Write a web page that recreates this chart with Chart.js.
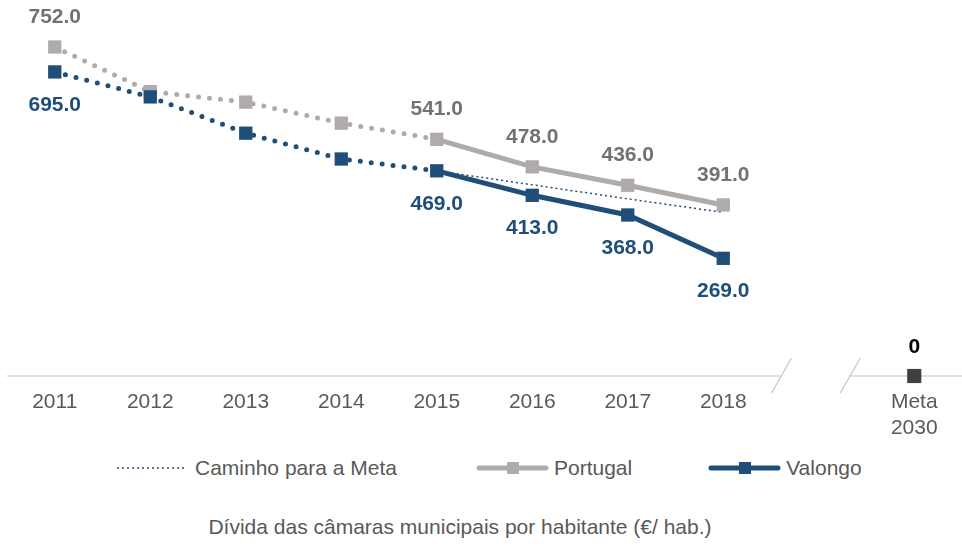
<!DOCTYPE html>
<html>
<head>
<meta charset="utf-8">
<script src="https://cdn.jsdelivr.net/npm/chart.js@4/dist/chart.umd.min.js"></script>
<style>
  html, body { margin: 0; padding: 0; background: #fff; }
  body { width: 962px; height: 547px; position: relative; overflow: hidden;
         font-family: "Liberation Sans", Arial, sans-serif; color: #595959; }
  #chartBox { position: absolute; left: 0; top: 0; width: 962px; height: 450px; }
  .legend { position: absolute; left: 117px; top: 455px; height: 26px;
            display: flex; align-items: center; font-size: 21px; }
  .legend .item { display: flex; align-items: center; }
  .legend svg { display: block; }
  .caption { position: absolute; left: 0; width: 920px; top: 515px;
             text-align: center; font-size: 21px; }
</style>
</head>
<body>
<div id="chartBox"><canvas id="debtChart"></canvas></div>

<div class="legend">
  <span class="item">
    <svg width="68" height="14"><line x1="0" y1="7" x2="68" y2="7" stroke="#1f4e79" stroke-width="1.5" stroke-dasharray="2 3"/></svg>
    <span style="margin-left:10px">Caminho para a Meta</span>
  </span>
  <span class="item" style="margin-left:79px">
    <svg width="73" height="14"><line x1="3" y1="7" x2="70" y2="7" stroke="#afabab" stroke-width="5" stroke-linecap="round"/><rect x="31" y="1" width="12" height="12" fill="#afabab"/></svg>
    <span style="margin-left:5px">Portugal</span>
  </span>
  <span class="item" style="margin-left:76px">
    <svg width="73" height="14"><line x1="3" y1="7" x2="70" y2="7" stroke="#1f4e79" stroke-width="5" stroke-linecap="round"/><rect x="31" y="1" width="12" height="12" fill="#1f4e79"/></svg>
    <span style="margin-left:5px">Valongo</span>
  </span>
</div>
<div class="caption">Dívida das câmaras municipais por habitante (€/ hab.)</div>

<script>
// Municipal debt per inhabitant (€/hab.): Valongo vs Portugal, 2011–2018, target 2030.
const categories = ['2011', '2012', '2013', '2014', '2015', '2016', '2017', '2018', '', ['Meta', '2030']];

const portugal = [752, 650, 626, 578, 541, 478, 436, 391, null, null];
const valongo  = [695, 638, 555, 496, 469, 413, 368, 269, null, null];

// straight path from the 2015 value down to zero in 2030
const pathToTarget = [null, null, null, null, 469, 437, 405, 374, null, null];
const target2030   = [null, null, null, null, null, null, null, null, null, 0];

// points that get a value label
const labelledPoints = [0, 4, 5, 6, 7];
// segments up to this index are dotted
const lastDottedIndex = 4;

const FONT = '"Liberation Sans", Arial, sans-serif';
const GREY = '#afabab';
const GREY_TEXT = '#767171';
const BLUE = '#1f4e79';

const dottedEarly = {
  borderDash: ctx => ctx.p1DataIndex <= lastDottedIndex ? [0, 11] : undefined,
  borderCapStyle: ctx => ctx.p1DataIndex <= lastDottedIndex ? 'round' : undefined
};

// value labels above Portugal, below Valongo, above the 2030 target
const valueLabels = {
  id: 'valueLabels',
  afterDatasetsDraw(chart) {
    const ctx = chart.ctx;
    ctx.save();
    ctx.textAlign = 'center';
    ctx.textBaseline = 'middle';
    ctx.font = 'bold 21px ' + FONT;
    const put = (dsIndex, idxs, color, dy, fmt) => {
      const meta = chart.getDatasetMeta(dsIndex);
      const values = chart.data.datasets[dsIndex].data;
      ctx.fillStyle = color;
      idxs.forEach(i => {
        const pt = meta.data[i];
        ctx.fillText(fmt(values[i]), pt.x, pt.y + dy);
      });
    };
    put(1, labelledPoints, GREY_TEXT, -30, v => v.toFixed(1));
    put(2, labelledPoints, BLUE, 33, v => v.toFixed(1));
    put(3, [9], '#000000', -29, v => String(v));
    ctx.restore();
  }
};

// x axis line with a break between 2018 and 2030
const brokenAxis = {
  id: 'brokenAxis',
  beforeDatasetsDraw(chart) {
    const { ctx, chartArea, scales: { x, y } } = chart;
    const y0 = y.getPixelForValue(0);
    const step = x.getPixelForValue(1) - x.getPixelForValue(0);
    const cut1 = x.getPixelForValue(7) + step * 0.6;
    const cut2 = x.getPixelForValue(7) + step * 1.32;
    ctx.save();
    ctx.strokeStyle = '#d9d9d9';
    ctx.lineWidth = 1.5;
    ctx.beginPath();
    ctx.moveTo(chartArea.left, y0);
    ctx.lineTo(cut1, y0);
    ctx.moveTo(cut2, y0);
    ctx.lineTo(chartArea.right, y0);
    ctx.stroke();
    ctx.strokeStyle = '#c4c4c4';
    ctx.lineWidth = 1.2;
    [cut1, cut2].forEach(cx => {
      ctx.beginPath();
      ctx.moveTo(cx - 9, y0 + 17);
      ctx.lineTo(cx + 11, y0 - 18);
      ctx.stroke();
    });
    ctx.restore();
  }
};

new Chart(document.getElementById('debtChart'), {
  type: 'line',
  data: {
    labels: categories,
    datasets: [
      {
        label: 'Caminho para a Meta',
        data: pathToTarget,
        borderColor: BLUE,
        borderWidth: 1.5,
        borderDash: [2, 3],
        pointRadius: 0,
        order: 3
      },
      {
        label: 'Portugal',
        data: portugal,
        borderColor: GREY,
        backgroundColor: GREY,
        borderWidth: 5,
        pointStyle: 'rect',
        pointRadius: 9.4,
        pointBorderWidth: 0,
        segment: dottedEarly,
        order: 2
      },
      {
        label: 'Valongo',
        data: valongo,
        borderColor: BLUE,
        backgroundColor: BLUE,
        borderWidth: 5,
        pointStyle: 'rect',
        pointRadius: 9.4,
        pointBorderWidth: 0,
        segment: dottedEarly,
        order: 1
      },
      {
        label: 'Meta 2030',
        data: target2030,
        borderColor: '#404040',
        backgroundColor: '#404040',
        showLine: false,
        pointStyle: 'rect',
        pointRadius: 10,
        pointBorderWidth: 0,
        order: 0
      }
    ]
  },
  options: {
    responsive: true,
    maintainAspectRatio: false,
    animation: false,
    layout: { autoPadding: false, padding: { top: 26, left: 7, right: 0, bottom: 0 } },
    plugins: {
      legend: { display: false },
      tooltip: { enabled: false }
    },
    scales: {
      x: {
        offset: true,
        border: { display: false },
        grid: { display: false, drawTicks: false },
        ticks: {
          autoSkip: false,
          maxRotation: 0,
          padding: 14,
          color: '#595959',
          font: { family: FONT, size: 21 }
        },
        afterFit: scale => { scale.height = 74; }
      },
      y: {
        display: false,
        min: 0,
        max: 800
      }
    },
    elements: { line: { tension: 0 } },
    datasets: { line: { clip: false, spanGaps: false } }
  },
  plugins: [brokenAxis, valueLabels]
});
</script>
</body>
</html>
